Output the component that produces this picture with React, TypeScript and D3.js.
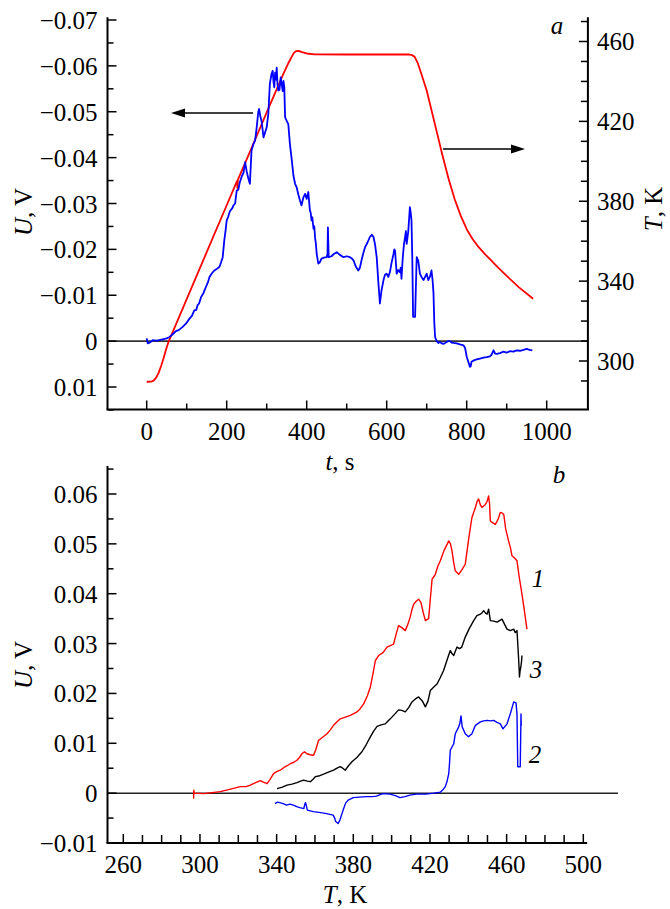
import React from "react";
import * as d3 from "d3";

const W = 670;
const H = 909;

// ---------- Panel a ----------
// temperature T(t), K
const tempSeries: [number, number][] = [
  [0, 289.6], [12, 289.7], [18, 290.3], [24, 291.8], [30, 294.2], [36, 297.5], [42, 301.3], [48, 305.5],
  [54, 309.3], [100, 331], [150, 354.5], [200, 378], [226, 390.2], [227, 386.5], [228, 390.8],
  [250, 401], [300, 424.5], [340, 443], [355, 449.5], [362, 452.2], [368, 454.3], [374, 455.2], [380, 455.3],
  [388, 454.7], [400, 454], [420, 453.6], [500, 453.5], [600, 453.5], [655, 453.5], [663, 453.2],
  [670, 452.3], [678, 449], [688, 443], [700, 435.5], [720, 419], [740, 402.5], [755, 391], [770, 381],
  [785, 372.8], [800, 366], [815, 361], [830, 357], [845, 353.6], [858, 351], [880, 346.5], [900, 342.6],
  [930, 337], [966, 331.2],
];

// voltage U(t), V
const voltSeries: [number, number][] = [
  [0, -0.0006], [2.5, 0.0005], [8, 0.0003], [15, -0.0002], [25, -0.0001], [40, -0.0004], [50, -0.0006],
  [57, -0.0009], [65, -0.0015], [73, -0.0022], [80, -0.0024], [90, -0.0031], [98, -0.0038], [107, -0.0049],
  [113, -0.0055], [119, -0.0067], [124, -0.0068], [127, -0.0078], [131, -0.0082], [136, -0.0096],
  [142, -0.0105], [148, -0.0118], [153, -0.0128], [157, -0.014], [163, -0.0148], [169, -0.0154],
  [176, -0.0158], [182, -0.0162], [186, -0.0172], [190, -0.0183], [194, -0.022], [197, -0.024],
  [200, -0.0263], [204, -0.0272], [208, -0.0283], [214, -0.029], [217, -0.0296], [221, -0.03], [225, -0.0328],
  [229, -0.033], [233, -0.0347], [238, -0.036], [242, -0.0367], [246, -0.039], [250, -0.037], [254, -0.0355],
  [258, -0.0343], [262, -0.0415], [267, -0.043], [271, -0.0437], [275, -0.0466], [279, -0.05], [281, -0.0506],
  [284, -0.049], [287, -0.048], [290, -0.046], [292, -0.0444], [296, -0.0455], [300, -0.0466], [304, -0.0495],
  [308, -0.0562], [312, -0.0582], [315, -0.0589], [317, -0.0565], [319, -0.0553], [321, -0.0585],
  [323, -0.057], [325, -0.0596], [327, -0.056], [329, -0.0546], [332, -0.0548], [335, -0.0575],
  [337, -0.0564], [340, -0.0545], [342, -0.0567], [344, -0.0553], [346, -0.0488], [350, -0.048],
  [354, -0.0473], [358, -0.043], [362, -0.04], [367, -0.036], [371, -0.0343], [375, -0.0335], [379, -0.032],
  [383, -0.0307], [387, -0.0296], [392, -0.0314], [396, -0.0321], [400, -0.031], [404, -0.0325],
  [408, -0.0285], [410, -0.028], [412, -0.0263], [414, -0.027], [417, -0.0245], [419, -0.025], [421, -0.0225],
  [423, -0.0212], [425, -0.019], [429, -0.0169], [433, -0.0172], [437, -0.018], [443, -0.0182], [450, -0.0183],
  [452, -0.019], [453, -0.0248], [455, -0.0183], [462, -0.0185], [468, -0.019], [475, -0.0194],
  [483, -0.0188], [492, -0.0183], [500, -0.0185], [508, -0.0183], [513, -0.018], [517, -0.0176],
  [523, -0.0162], [529, -0.0154], [533, -0.016], [537, -0.0176], [541, -0.019], [546, -0.0205],
  [552, -0.0215], [558, -0.0227], [563, -0.0232], [567, -0.0227], [571, -0.021], [575, -0.0183],
  [579, -0.013], [583, -0.0082], [587, -0.011], [592, -0.0133], [596, -0.0145], [600, -0.0147],
  [604, -0.014], [608, -0.015], [612, -0.017], [617, -0.019], [619, -0.02], [621, -0.0197], [623, -0.017],
  [625, -0.0147], [629, -0.0155], [633, -0.015], [635, -0.016], [637, -0.0136], [640, -0.018],
  [643, -0.021], [646, -0.0227], [648, -0.024], [650, -0.0212], [654, -0.024], [658, -0.0292],
  [660, -0.028], [662, -0.0263], [664, -0.018], [666, -0.0053], [671, -0.0053], [673, -0.012],
  [675, -0.0183], [679, -0.0175], [683, -0.0147], [687, -0.014], [692, -0.0133], [696, -0.014],
  [700, -0.0147], [704, -0.0133], [708, -0.014], [712, -0.0154], [715, -0.013], [717, -0.0104],
  [719, -0.004], [721, -0.0009], [725, 0], [729, 0.0004], [733, 0.0002], [738, 0.0005], [742, 0.0006],
  [746, 0.0004], [750, 0.0002], [754, 0], [758, 0], [762, 0.0003], [767, 0.0004], [775, 0.0005],
  [783, 0.0007], [792, 0.0009], [796, 0.0015], [800, 0.0034], [804, 0.0045], [808, 0.0056],
  [810, 0.0055], [812, 0.0045], [818, 0.0042], [825, 0.004], [833, 0.0038], [842, 0.0036], [850, 0.0035],
  [858, 0.0033], [862, 0.003], [867, 0.002], [871, 0.0027], [875, 0.0028], [883, 0.0026], [892, 0.0023],
  [900, 0.0025], [908, 0.0022], [917, 0.0023], [925, 0.002], [933, 0.0021], [942, 0.0019], [950, 0.0017],
  [957, 0.0019], [964, 0.002],
];

const uTicksA = [-0.07, -0.06, -0.05, -0.04, -0.03, -0.02, -0.01, 0, 0.01];
const uMinorA = [-0.065, -0.055, -0.045, -0.035, -0.025, -0.015, -0.005, 0.005, 0.015];
const tTicksA = [300, 340, 380, 420, 460];
const tMinorA = [290, 310, 320, 330, 350, 360, 370, 390, 400, 410, 430, 440, 450, 470];
const timeTicks = [0, 200, 400, 600, 800, 1000];
const timeMinor = [100, 300, 500, 700, 900];

// ---------- Panel b ----------
const curve1: [number, number][] = [
  [296.7, 0], [296.7, -0.001], [296.8, 0.0006], [297, 0], [302, -0.0001], [310.6, 0.0003], [316, 0.0008],
  [321, 0.0013], [324, 0.0013], [326.3, 0.0016], [329, 0.0021], [331.5, 0.0025], [333, 0.0022],
  [335, 0.0019], [336.5, 0.0027], [338.4, 0.0039], [340, 0.0043], [341.9, 0.0046], [344, 0.0052],
  [345.5, 0.0055], [347.1, 0.0059], [349, 0.0062], [350.6, 0.0066], [352, 0.0072], [353.2, 0.0079],
  [354.5, 0.0083], [355.8, 0.0079], [357.5, 0.0077], [359.3, 0.0076], [360.5, 0.0088], [361.9, 0.0106],
  [364, 0.0112], [366.3, 0.0119], [368, 0.0127], [369.7, 0.0136], [371.5, 0.0143], [373.2, 0.0149],
  [375.5, 0.0152], [378.4, 0.0156], [380, 0.0159], [381.9, 0.0163], [383.5, 0.0169], [385.4, 0.0179],
  [387.3, 0.0195], [388.9, 0.0213], [390.3, 0.024], [391.5, 0.0266], [393.2, 0.0276], [395.5, 0.0282],
  [397.6, 0.0293], [399.3, 0.0296], [401, 0.0299], [402.3, 0.0318], [403.6, 0.0336], [405.3, 0.0332],
  [407.1, 0.0326], [408.4, 0.0338], [409.7, 0.0353], [410.6, 0.0368], [411.5, 0.0379], [412.8, 0.0385],
  [414.1, 0.0389], [415.3, 0.0382], [416.5, 0.0362], [417.6, 0.0346], [419.3, 0.035], [420.2, 0.039],
  [421.1, 0.0429], [422.8, 0.0439], [424.1, 0.0455], [425.4, 0.0466], [427.5, 0.0488], [429.8, 0.0506],
  [430.7, 0.05], [431.5, 0.0486], [432.4, 0.0462], [433.2, 0.0446], [435, 0.0439], [436.6, 0.0448],
  [438.4, 0.0459], [440.2, 0.051], [441.9, 0.0553], [443.7, 0.0573], [444.6, 0.0585], [445.4, 0.059],
  [446.3, 0.0578], [447.1, 0.0573], [448.9, 0.0579], [449.8, 0.0585], [450.6, 0.0596], [451.1, 0.058],
  [451.5, 0.0546], [452.8, 0.0542], [454.1, 0.0539], [455.4, 0.0548], [456.7, 0.0563], [457.6, 0.0562],
  [458.5, 0.0559], [459.5, 0.053], [461, 0.0506], [462, 0.0492], [462.8, 0.0476], [464, 0.0472],
  [465.4, 0.0466], [466.5, 0.0435], [468, 0.0399], [469.3, 0.0365], [470.6, 0.0329],
];

const curve2: [number, number][] = [
  [339.1, -0.0021], [340.5, -0.0018], [342.6, -0.002], [344, -0.0022], [345.2, -0.0024], [347, -0.0022],
  [348.7, -0.0024], [350.5, -0.0027], [352.1, -0.0029], [354.2, -0.0031], [354.7, -0.0022],
  [355.1, -0.0019], [355.5, -0.0025], [356, -0.0034], [359.1, -0.0037], [363, -0.0039], [366.1, -0.0041],
  [369.5, -0.0044], [370.3, -0.005], [370.8, -0.0057], [372.1, -0.0061], [373, -0.0054], [374.7, -0.0034],
  [376, -0.002], [377.3, -0.0014], [380, -0.0009], [383, -0.0008], [386.9, -0.0007], [390, -0.0007],
  [392.1, -0.0006], [394, -0.0003], [395.6, -0.0001], [399.1, -0.0002], [402, -0.0005], [404.3, -0.0009],
  [407, -0.0007], [409.5, -0.0004], [413, -0.0002], [418, -0.0002], [422, 0], [425.4, 0.0002],
  [427, 0.0008], [428, 0.0013], [429, 0.0025], [429.8, 0.0039], [430.2, 0.006], [430.6, 0.0086],
  [432.4, 0.0099], [433.2, 0.0119], [435, 0.0133], [435.6, 0.014], [436.2, 0.0155], [436.8, 0.0133],
  [438.4, 0.0119], [440.1, 0.0113], [441.9, 0.0119], [443.7, 0.0136], [446.3, 0.0143], [448, 0.0145],
  [449.8, 0.0146], [451.5, 0.0145], [453.2, 0.0146], [455, 0.0142], [456.7, 0.0139], [458.1, 0.0129],
  [460.2, 0.0139], [461.9, 0.0159], [463.7, 0.0183], [464.9, 0.0181], [465.4, 0.0159], [465.8, 0.0053],
  [467.1, 0.0053], [467.5, 0.0159], [467.6, 0.0135],
];

const curve3: [number, number][] = [
  [340.2, 0.0009], [343, 0.0012], [345.4, 0.0016], [348, 0.0018], [350.6, 0.0021], [352.5, 0.0024],
  [354.1, 0.0026], [356, 0.0024], [357.6, 0.0023], [359, 0.0028], [360.2, 0.0033], [362.5, 0.0035],
  [364.5, 0.0038], [367, 0.0042], [369.7, 0.0046], [371.5, 0.005], [373.2, 0.0053], [374.5, 0.005],
  [375.8, 0.0046], [377.5, 0.0055], [379.3, 0.0063], [382, 0.0072], [384.5, 0.0083], [386.7, 0.0097],
  [388.9, 0.0113], [390.7, 0.0125], [392.4, 0.0134], [394.5, 0.0137], [396.7, 0.0139], [398, 0.0144],
  [399.3, 0.0149], [401.5, 0.0158], [403.6, 0.0167], [405.3, 0.0166], [407.1, 0.0163], [409, 0.0172],
  [410.6, 0.0183], [412.4, 0.0189], [414.1, 0.0193], [416, 0.0185], [417.6, 0.0173], [419, 0.0185],
  [420.2, 0.0206], [422, 0.0213], [423.7, 0.0219], [425.4, 0.0232], [427.1, 0.0246], [429, 0.0268],
  [430.6, 0.0286], [431.5, 0.028], [432.4, 0.0276], [434.1, 0.0293], [435.4, 0.029], [436.6, 0.0293],
  [438.4, 0.0313], [440.5, 0.033], [442.8, 0.0346], [444.5, 0.0356], [446.3, 0.0359], [447.2, 0.0362],
  [448, 0.0366], [449, 0.0361], [449.8, 0.0359], [450.6, 0.0369], [451.5, 0.0346], [453.3, 0.0345],
  [455, 0.0343], [456.3, 0.0346], [457.6, 0.0349], [459, 0.0338], [460.2, 0.0329], [461.9, 0.0326],
  [463.7, 0.0329], [464.5, 0.0322], [465.4, 0.0326], [465.8, 0.03], [466.2, 0.0273], [466.5, 0.025],
  [466.7, 0.0233], [467, 0.0245], [467.4, 0.0253], [467.8, 0.0265], [468, 0.0276],
];

const uTicksB = [-0.01, 0, 0.01, 0.02, 0.03, 0.04, 0.05, 0.06];
const uMinorB = [-0.005, 0.005, 0.015, 0.025, 0.035, 0.045, 0.055, 0.065];
const tTicksB = [260, 300, 340, 380, 420, 460, 500];
const tMinorB = [270, 280, 290, 310, 320, 330, 350, 360, 370, 390, 400, 410, 430, 440, 450, 470, 480, 490];

const FONT = '"Liberation Serif", "Times New Roman", Times, "DejaVu Serif", "Noto Serif", serif';
const FS = 25;

const fmtU = (v: number) => (Math.abs(v) < 1e-9 ? "0" : d3.format(".2f")(v));

export default function App() {
  // Panel a scales
  const xA = d3.scaleLinear().domain([0, 1000]).range([146.7, 546.7]);
  const yU = d3.scaleLinear().domain([-0.07, 0.01]).range([20, 387]);
  const yT = d3.scaleLinear().domain([300, 460]).range([361, 41.5]);
  const leftA = xA(-98);
  const rightA = xA(1103);
  const topA = yU(-0.0706);
  const botA = yU(0.0149);

  // Panel b scales
  const xB = d3.scaleLinear().domain([260, 500]).range([123.3, 583.3]);
  const yB = d3.scaleLinear().domain([-0.01, 0.06]).range([843, 494]);
  const leftB = leftA;
  const rightB = xB(502);
  const topB = yB(0.0656);
  const botB = yB(-0.01);

  const lineT = d3.line<[number, number]>().x((d) => xA(d[0])).y((d) => yT(d[1]));
  const lineU = d3.line<[number, number]>().x((d) => xA(d[0])).y((d) => yU(d[1]));
  const lineB = d3.line<[number, number]>().x((d) => xB(d[0])).y((d) => yB(d[1]));

  const axisStroke = "#000";
  const aw = 2;
  const ts: React.CSSProperties = { fontFamily: FONT, fontSize: FS };
  const tsi: React.CSSProperties = { fontFamily: FONT, fontSize: FS, fontStyle: "italic" };

  return (
    <svg
      width={W}
      height={H}
      viewBox={`0 0 ${W} ${H}`}
      style={{ position: "absolute", left: 0, top: 0, background: "#fff", fontFamily: FONT }}
    >
      {/* ================= Panel a ================= */}
      <line x1={leftA} x2={rightA} y1={yU(0)} y2={yU(0)} stroke="#333" strokeWidth={1.6} />
      <path d={lineT(tempSeries) || ""} fill="none" stroke="#ff0000" strokeWidth={1.8} strokeLinejoin="round" />
      <path d={lineU(voltSeries) || ""} fill="none" stroke="#0000ff" strokeWidth={1.8} strokeLinejoin="round" />

      <line x1={leftA} x2={leftA} y1={topA} y2={botA} stroke={axisStroke} strokeWidth={aw} />
      <line x1={rightA} x2={rightA} y1={topA} y2={botA} stroke={axisStroke} strokeWidth={aw} />
      <line x1={leftA - 1} x2={rightA + 1} y1={botA} y2={botA} stroke={axisStroke} strokeWidth={aw} />

      {uTicksA.map((v) => (
        <g key={"ua" + v}>
          <line x1={leftA} x2={leftA + 9} y1={yU(v)} y2={yU(v)} stroke={axisStroke} strokeWidth={1.5} />
          <text x={leftA - 10} y={yU(v) + 9} style={ts} textAnchor="end">{fmtU(v)}</text>
        </g>
      ))}
      {uMinorA.map((v) => (
        <line key={"uma" + v} x1={leftA} x2={leftA + 6} y1={yU(v)} y2={yU(v)} stroke={axisStroke} strokeWidth={1.5} />
      ))}
      {tTicksA.map((v) => (
        <g key={"ta" + v}>
          <line x1={rightA} x2={rightA - 9} y1={yT(v)} y2={yT(v)} stroke={axisStroke} strokeWidth={1.5} />
          <text x={rightA + 9} y={yT(v) + 8.5} style={ts} textAnchor="start">{v}</text>
        </g>
      ))}
      {tMinorA.map((v) => (
        <line key={"tma" + v} x1={rightA} x2={rightA - 7} y1={yT(v)} y2={yT(v)} stroke={axisStroke} strokeWidth={1.5} />
      ))}
      {timeTicks.map((v) => (
        <g key={"xa" + v}>
          <line x1={xA(v)} x2={xA(v)} y1={botA} y2={botA - 9} stroke={axisStroke} strokeWidth={1.5} />
          <text x={xA(v)} y={botA + 31} style={ts} textAnchor="middle">{v}</text>
        </g>
      ))}
      {timeMinor.map((v) => (
        <line key={"xma" + v} x1={xA(v)} x2={xA(v)} y1={botA} y2={botA - 6} stroke={axisStroke} strokeWidth={1.5} />
      ))}

      <text x={340} y={470} style={ts} textAnchor="middle">
        <tspan style={{ fontStyle: "italic" }}>t</tspan>, s
      </text>
      <text transform="translate(32,212) rotate(-90)" style={ts} textAnchor="middle">
        <tspan style={{ fontStyle: "italic" }}>U</tspan>, V
      </text>
      <text transform="translate(662,209) rotate(-90)" style={ts} textAnchor="middle">
        <tspan style={{ fontStyle: "italic" }}>T</tspan>, K
      </text>
      <text x={557} y={34} style={tsi} textAnchor="middle">a</text>

      <line x1={253} x2={180} y1={113} y2={113} stroke="#000" strokeWidth={1.6} />
      <path d="M171,113 L185,108.5 L185,117.5 Z" fill="#000" />
      <line x1={443} x2={515} y1={149} y2={149} stroke="#000" strokeWidth={1.6} />
      <path d="M525,149 L511,144.5 L511,153.5 Z" fill="#000" />

      {/* ================= Panel b ================= */}
      <line x1={leftB} x2={618} y1={yB(0)} y2={yB(0)} stroke="#222" strokeWidth={1.5} />
      <path d={lineB(curve1) || ""} fill="none" stroke="#ff0000" strokeWidth={1.4} strokeLinejoin="round" />
      <path d={lineB(curve3) || ""} fill="none" stroke="#000000" strokeWidth={1.4} strokeLinejoin="round" />
      <path d={lineB(curve2) || ""} fill="none" stroke="#0000ff" strokeWidth={1.4} strokeLinejoin="round" />

      <line x1={leftB} x2={leftB} y1={topB} y2={botB} stroke={axisStroke} strokeWidth={aw} />
      <line x1={leftB - 1} x2={rightB} y1={botB} y2={botB} stroke={axisStroke} strokeWidth={aw} />

      {uTicksB.map((v) => (
        <g key={"ub" + v}>
          <line x1={leftB} x2={leftB + 9} y1={yB(v)} y2={yB(v)} stroke={axisStroke} strokeWidth={1.5} />
          <text x={leftB - 10} y={yB(v) + 9} style={ts} textAnchor="end">{fmtU(v)}</text>
        </g>
      ))}
      {uMinorB.map((v) => (
        <line key={"umb" + v} x1={leftB} x2={leftB + 6} y1={yB(v)} y2={yB(v)} stroke={axisStroke} strokeWidth={1.5} />
      ))}
      {tTicksB.map((v) => (
        <g key={"tb" + v}>
          <line x1={xB(v)} x2={xB(v)} y1={botB} y2={botB - 9} stroke={axisStroke} strokeWidth={1.5} />
          <text x={xB(v)} y={botB + 30} style={ts} textAnchor="middle">{v}</text>
        </g>
      ))}
      {tMinorB.map((v) => (
        <line key={"tmb" + v} x1={xB(v)} x2={xB(v)} y1={botB} y2={botB - 8} stroke={axisStroke} strokeWidth={1.5} />
      ))}

      <text x={345} y={903} style={ts} textAnchor="middle">
        <tspan style={{ fontStyle: "italic" }}>T</tspan>, K
      </text>
      <text transform="translate(32,665) rotate(-90)" style={ts} textAnchor="middle">
        <tspan style={{ fontStyle: "italic" }}>U</tspan>, V
      </text>
      <text x={559} y={483} style={tsi} textAnchor="middle">b</text>

      <text x={538} y={587} style={tsi} textAnchor="middle">1</text>
      <text x={536} y={678} style={tsi} textAnchor="middle">3</text>
      <text x={535} y={763} style={tsi} textAnchor="middle">2</text>
    </svg>
  );
}
